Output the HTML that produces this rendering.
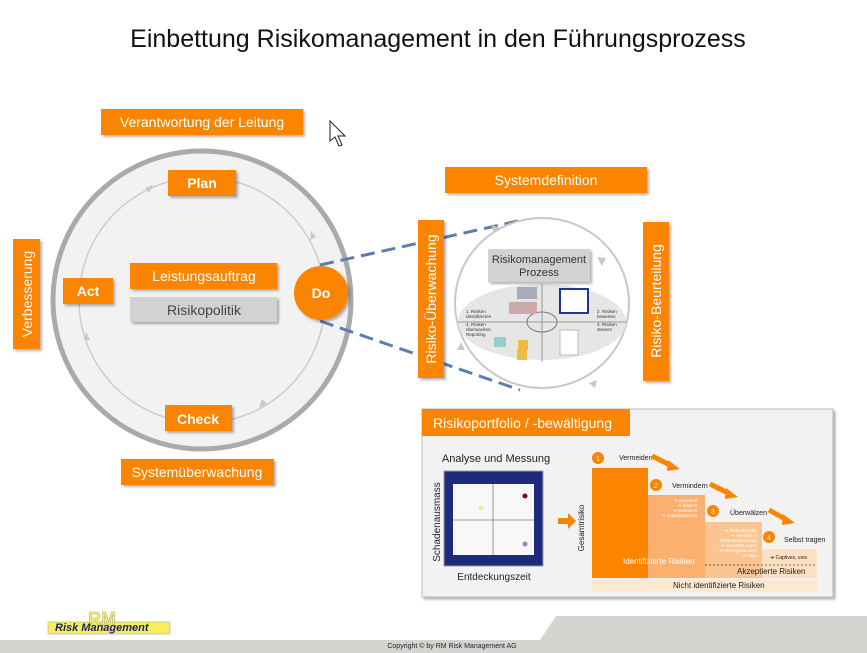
<!DOCTYPE html>
<html><head><meta charset="utf-8"><style>
body{margin:0;width:867px;height:653px;overflow:hidden;background:#fff;font-family:"Liberation Sans",sans-serif}
svg{display:block}
</style></head><body>
<svg width="867" height="653" viewBox="0 0 867 653" font-family="Liberation Sans, sans-serif">
<defs>
<filter id="sh" x="-10%" y="-10%" width="130%" height="140%"><feDropShadow dx="2" dy="2" stdDeviation="1.2" flood-color="#000" flood-opacity="0.3"/></filter>
</defs>
<text x="438" y="47" text-anchor="middle" font-size="25" fill="#111">Einbettung Risikomanagement in den Führungsprozess</text>
<path d="M330,121 L330,141 L335,137 L339,146 L342,145 L338,136 L345,136 Z" fill="#fff" stroke="#222" stroke-width="1"/>

<circle cx="202" cy="300" r="149" fill="#f2f2f2" stroke="#aaa" stroke-width="5"/>
<circle cx="202" cy="300" r="123" fill="none" stroke="#ccc" stroke-width="1.5"/>
<path d="M145,188 l8,-3 -4,8z" fill="#c8c8c8"/>
<path d="M310,240 l1,-9 5,6z" fill="#c8c8c8"/>
<path d="M268,405 l-9,2 3,-8z" fill="#c8c8c8"/>
<path d="M84,340 l2,-8 4,8z" fill="#c8c8c8"/>

<!-- dashed (behind boxes) -->
<line x1="320" y1="265" x2="518" y2="221" stroke="#5b7eab" stroke-width="3" stroke-dasharray="14,7"/>
<line x1="320" y1="321" x2="520" y2="390" stroke="#5b7eab" stroke-width="3" stroke-dasharray="14,7"/>

<g filter="url(#sh)">
<rect x="101" y="109" width="202" height="26" fill="#fb8500"/>
<rect x="168" y="170" width="68" height="26" fill="#fb8500"/>
<rect x="13" y="239" width="27" height="110" fill="#fb8500"/>
<rect x="63" y="278" width="50" height="26" fill="#fb8500"/>
<rect x="130" y="263" width="147" height="26" fill="#fb8500"/>
<rect x="130" y="297" width="147" height="25" fill="#d2d2d2"/>
<circle cx="321" cy="293" r="27" fill="#fb8500"/>
<rect x="165" y="405" width="67" height="26" fill="#fb8500"/>
<rect x="121" y="459" width="153" height="26" fill="#fb8500"/>
<rect x="445" y="167" width="202" height="26" fill="#fb8500"/>
<rect x="418" y="220" width="26" height="158" fill="#fb8500"/>
<rect x="643" y="222" width="26" height="159" fill="#fb8500"/>
</g>
<g fill="#fff" font-size="14" text-anchor="middle">
<text x="202" y="127">Verantwortung der Leitung</text>
<text x="202" y="188" font-weight="bold">Plan</text>
<text x="88" y="296" font-weight="bold">Act</text>
<text x="204" y="281">Leistungsauftrag</text>
<text x="321" y="298" font-weight="bold">Do</text>
<text x="198" y="424" font-weight="bold">Check</text>
<text x="197" y="477">Systemüberwachung</text>
<text x="546" y="185">Systemdefinition</text>
<text transform="translate(32,294) rotate(-90)">Verbesserung</text>
<text transform="translate(436,299) rotate(-90)">Risiko-Überwachung</text>
<text transform="translate(661,301) rotate(-90)">Risiko-Beurteilung</text>
</g>
<text x="204" y="315" text-anchor="middle" font-size="14" fill="#444">Risikopolitik</text>

<ellipse cx="542" cy="303" rx="87" ry="85" fill="#fff" stroke="#c8c8c8" stroke-width="2"/>
<ellipse cx="542" cy="322" rx="84" ry="38" fill="#e6e6e6"/>
<line x1="542" y1="284" x2="542" y2="362" stroke="#999"/>
<line x1="458" y1="322" x2="626" y2="322" stroke="#999"/>
<ellipse cx="542" cy="322" rx="15" ry="10" fill="none" stroke="#777"/>
<rect x="560" y="289" width="28" height="24" fill="#fff" stroke="#223399" stroke-width="2"/>
<rect x="517" y="287" width="20" height="12" fill="#aab" />
<rect x="509" y="302" width="28" height="12" fill="#caa"/>
<rect x="494" y="337" width="12" height="10" fill="#9cc"/>
<rect x="518" y="340" width="10" height="10" fill="#eb4"/>
<rect x="517" y="350" width="10" height="10" fill="#eb4"/>
<rect x="560" y="330" width="18" height="25" fill="#fff" stroke="#bbb"/>
<g font-size="4.5" fill="#333"><text x="466" y="313">1. Risiken</text><text x="466" y="318">identifizieren</text>
<text x="597" y="313">2. Risiken</text><text x="597" y="318">bewerten</text>
<text x="597" y="326">3. Risiken</text><text x="597" y="331">steuern</text>
<text x="466" y="326">4. Risiken</text><text x="466" y="331">überwachen,</text><text x="466" y="336">Reporting</text></g>
<path d="M597,257 l5,9 4,-8z" fill="#c8c8c8"/>
<path d="M597,380 l-8,3 6,5z" fill="#c8c8c8"/>
<path d="M457,350 l4,-8 4,8z" fill="#c8c8c8"/>
<path d="M500,228 l-8,-3 1,7z" fill="#c8c8c8"/>
<rect x="488" y="249" width="102" height="33" fill="#d2d2d2" filter="url(#sh)"/>
<text x="539" y="263" text-anchor="middle" font-size="11" fill="#333">Risikomanagement</text>
<text x="539" y="276" text-anchor="middle" font-size="11" fill="#333">Prozess</text>

<rect x="422" y="409" width="411" height="188" fill="#f2f2f2" stroke="#bbb" filter="url(#sh)"/>
<rect x="422" y="409" width="208" height="27" fill="#fb8500"/>
<text x="433" y="428" font-size="14" fill="#fff">Risikoportfolio / -bewältigung</text>
<text x="496" y="462" text-anchor="middle" font-size="11" fill="#222">Analyse und Messung</text>
<text x="494" y="580" text-anchor="middle" font-size="10" fill="#222">Entdeckungszeit</text>
<text transform="translate(440,522) rotate(-90)" text-anchor="middle" font-size="10" fill="#222">Schadenausmass</text>
<rect x="444" y="471" width="99" height="95" fill="#1e2a7a" stroke="#99a" />
<rect x="453" y="484" width="81" height="71" fill="#f8f8f8"/>
<line x1="493" y1="484" x2="493" y2="555" stroke="#999"/>
<line x1="453" y1="520" x2="534" y2="520" stroke="#999"/>
<circle cx="525" cy="496" r="2.5" fill="#803"/><circle cx="481" cy="508" r="2.5" fill="#ee9"/><circle cx="525" cy="544" r="2.5" fill="#88c"/>
<path d="M558,518 h10 v-5 l8,8 -8,8 v-5 h-10z" fill="#fb8500"/>
<text transform="translate(584,528) rotate(-90)" text-anchor="middle" font-size="8" fill="#222">Gesamtrisiko</text>
<rect x="592" y="468" width="56" height="110" fill="#fb8500"/>
<rect x="648" y="495" width="57" height="83" fill="#fbb070"/>
<rect x="705" y="522" width="57" height="56" fill="#fcc590"/>
<rect x="762" y="549" width="55" height="29" fill="#fde1c2"/>
<rect x="592" y="580" width="225" height="12" fill="#fde8d2"/>
<line x1="705" y1="565" x2="817" y2="565" stroke="#333" stroke-dasharray="2,2" stroke-width="0.7"/>
<g font-size="7" fill="#222">
<text x="619" y="460">Vermeiden</text><text x="672" y="488">Vermindern</text>
<text x="730" y="515">Überwälzen</text><text x="784" y="542">Selbst tragen</text>
<text x="623" y="564" fill="#fff" font-size="8">Identifizierte Risiken</text>
<text x="737" y="574" font-size="8">Akzeptierte Risiken</text>
<text x="673" y="588" font-size="8">Nicht identifizierte Risiken</text>
<text x="770" y="559" font-size="5">➔ Captives, usw.</text>
</g>
<g font-size="4.5" fill="#fff" text-anchor="end"><text x="697" y="502">➔ personell</text><text x="697" y="507">➔ baulich</text><text x="697" y="512">➔ technisch</text><text x="697" y="517">➔ organisatorisch</text>
<text x="757" y="532">➔ Risikotransfer</text><text x="757" y="537">➔ Alternative</text><text x="757" y="542">Risikofinanzierung</text><text x="757" y="547">➔ Versicherungen</text><text x="757" y="552">➔ Vertragsklauseln</text><text x="757" y="557">➔ usw.</text></g>
<g fill="#fb8500"><circle cx="598" cy="458" r="6"/><circle cx="656" cy="485" r="6"/><circle cx="713" cy="511" r="6"/><circle cx="769" cy="537" r="6"/></g>
<g fill="#fff" font-size="7" text-anchor="middle"><text x="598" y="461">1</text><text x="656" y="488">2</text><text x="713" y="514">3</text><text x="769" y="540">4</text></g>
<g stroke="#fb8500" stroke-width="5"><line x1="652" y1="456" x2="672" y2="466"/><line x1="710" y1="484" x2="730" y2="494"/><line x1="769" y1="510" x2="787" y2="520"/></g>
<g fill="#fb8500"><path d="M668,460 l12,9 -13,2z"/><path d="M726,488 l12,9 -13,2z"/><path d="M783,514 l12,9 -13,2z"/></g>

<path d="M540,640 L556,616 L867,616 L867,653 L540,653z" fill="#d4d4d0"/>
<rect x="0" y="640" width="867" height="13" fill="#d4d4d0"/>
<rect x="48" y="622" width="122" height="12" fill="#f6ef5a" stroke="#999" stroke-width="0.5"/>
<text x="88" y="625" font-size="18" font-weight="bold" fill="#f6ef5a" stroke="#aa9" stroke-width="0.5">RM</text>
<text x="55" y="631" font-size="11" font-weight="bold" font-style="italic" fill="#1b1f6b">Risk Management</text>
<text x="452" y="648" text-anchor="middle" font-size="7" fill="#223">Copyright © by RM Risk Management AG</text>
</svg>
</body></html>
